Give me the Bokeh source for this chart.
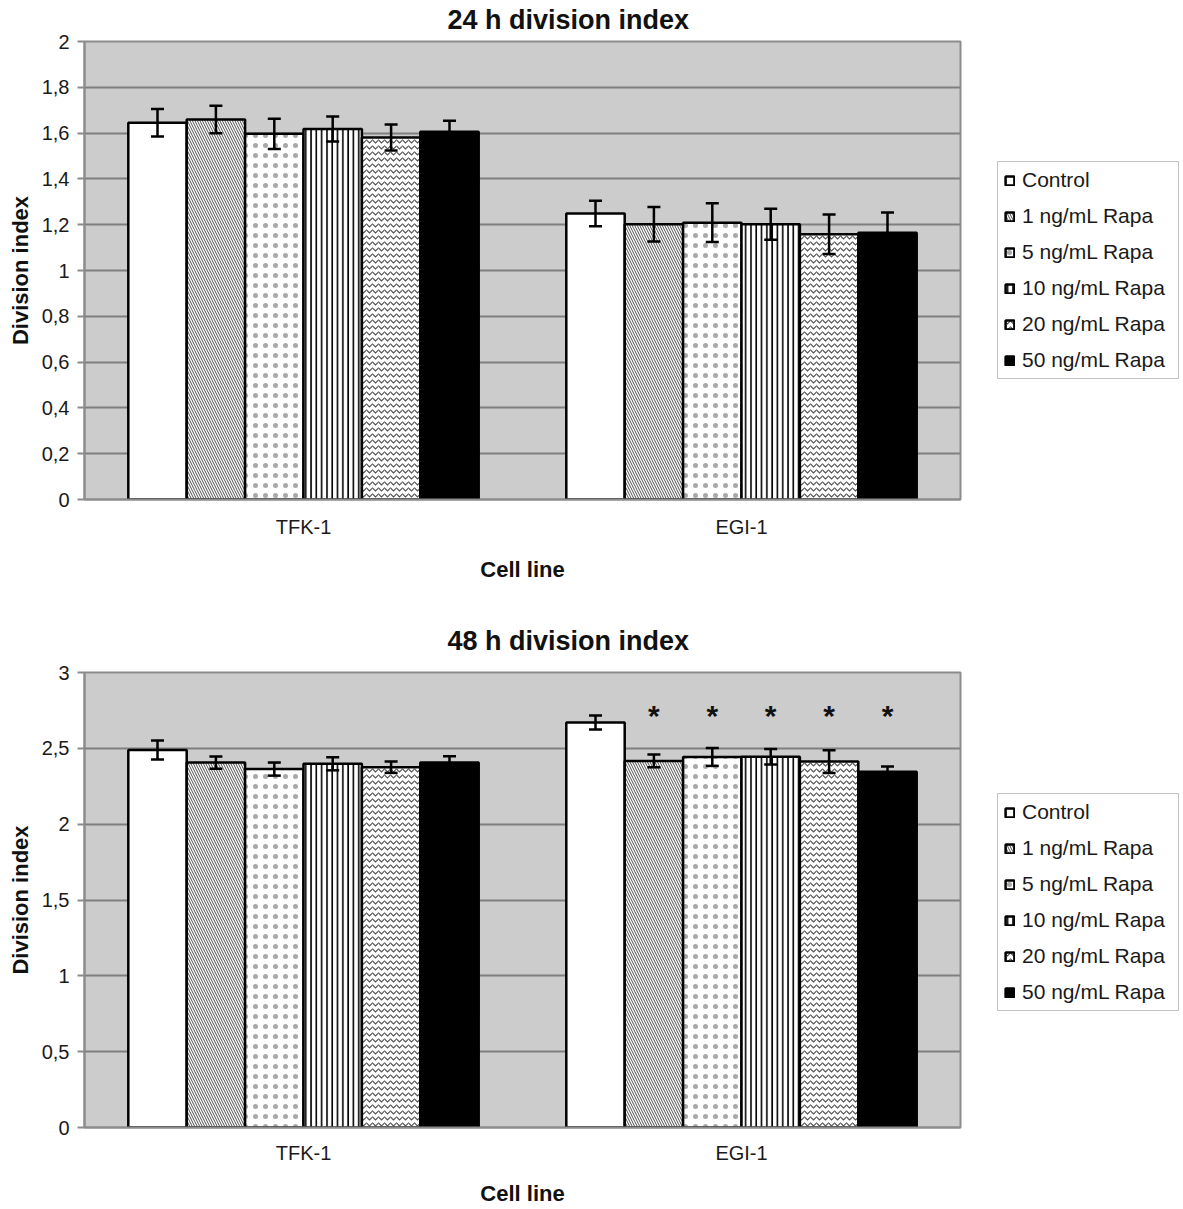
from bokeh.plotting import figure
from bokeh.models import (FactorRange, Range1d, FixedTicker, Legend, LegendItem,
                          Whisker, TeeHead, ColumnDataSource, CustomJSTickFormatter)
from bokeh.transform import dodge
from bokeh.layouts import column
from bokeh.embed import file_html
from bokeh.resources import INLINE
from bokeh.core.properties import value

# ---------------- data ----------------
cell_lines = ["TFK-1", "EGI-1"]
treatments = ["Control", "1 ng/mL Rapa", "5 ng/mL Rapa", "10 ng/mL Rapa",
              "20 ng/mL Rapa", "50 ng/mL Rapa"]

# 24 h division index
tfk_24 = [1.645, 1.659, 1.597, 1.618, 1.581, 1.606]
tfk_24_err = [0.060, 0.060, 0.066, 0.055, 0.057, 0.048]
egi_24 = [1.249, 1.202, 1.209, 1.202, 1.158, 1.165]
egi_24_err = [0.056, 0.075, 0.085, 0.068, 0.086, 0.088]

# 48 h division index
tfk_48 = [2.489, 2.406, 2.363, 2.398, 2.376, 2.406]
tfk_48_err = [0.063, 0.040, 0.043, 0.043, 0.038, 0.042]
egi_48 = [2.671, 2.417, 2.443, 2.445, 2.413, 2.346]
egi_48_err = [0.046, 0.042, 0.059, 0.051, 0.075, 0.034]
egi_48_significant = [False, True, True, True, True, True]

y_ticks_24 = [0, 0.2, 0.4, 0.6, 0.8, 1, 1.2, 1.4, 1.6, 1.8, 2]
y_ticks_48 = [0, 0.5, 1, 1.5, 2, 2.5, 3]

# ---------------- styling ----------------
FONT = "Liberation Sans"
GRID = "#7f7f7f"
AXIS = "#8c8c8c"

bar_styles = [
    dict(fill_color="white"),
    dict(fill_color="white", hatch_pattern="left_diagonal_line", hatch_color="#505050",
         hatch_scale=5, hatch_weight=1),
    dict(fill_color="white", hatch_pattern="dot", hatch_color="#a8a8a8",
         hatch_scale=10, hatch_weight=1),
    dict(fill_color="white", hatch_pattern="vertical_line", hatch_color="black",
         hatch_scale=5.3, hatch_weight=1.6),
    dict(fill_color="white", hatch_pattern="horizontal_wave", hatch_color="#505050",
         hatch_scale=6, hatch_weight=1.1),
    dict(fill_color="black"),
]

N = len(treatments)
BW = 0.8 / N


def make_chart(title, tfk, tfk_err, egi, egi_err, y_ticks, frame_h, top_border,
               bottom_border, title_standoff, legend_vy, xlabel_standoff,
               significant=None, star_y=None):
    p = figure(x_range=FactorRange(*cell_lines, range_padding=0),
               y_range=Range1d(0, y_ticks[-1]),
               frame_width=876, frame_height=frame_h,
               min_border_left=84, min_border_right=223,
               min_border_top=top_border, min_border_bottom=bottom_border,
               output_backend="svg", toolbar_location=None, title=title)

    p.title.align = "left"
    p.title.offset = 363
    p.title.standoff = title_standoff
    p.title.vertical_align = "top"
    p.title.text_font = FONT
    p.title.text_font_size = "27px"
    p.title.text_font_style = "bold"
    p.title.text_color = "#111111"

    p.background_fill_color = "#cccccc"
    p.border_fill_color = "white"
    p.outline_line_color = AXIS
    p.outline_line_width = 2

    p.xgrid.visible = False
    p.ygrid.grid_line_color = GRID
    p.ygrid.grid_line_width = 2

    ticker = FixedTicker(ticks=y_ticks)
    p.yaxis.ticker = ticker
    p.ygrid.ticker = ticker
    p.yaxis.formatter = CustomJSTickFormatter(code="return String(tick).replace('.', ',');")

    for ax in (p.xaxis, p.yaxis):
        ax.axis_line_color = AXIS
        ax.axis_line_width = 2
        ax.major_tick_line_color = AXIS
        ax.major_tick_line_width = 2
        ax.minor_tick_line_color = None
        ax.major_label_text_font = FONT
        ax.major_label_text_font_size = "20px"
        ax.major_label_text_color = "#1a1a1a"
        ax.axis_label_text_font = FONT
        ax.axis_label_text_font_size = "22px"
        ax.axis_label_text_font_style = "bold"
        ax.axis_label_text_color = "#111111"

    p.yaxis.major_tick_out = 7
    p.yaxis.major_tick_in = 0
    p.yaxis.major_label_standoff = 8
    p.yaxis.axis_label = "Division index"
    p.yaxis.axis_label_standoff = 6

    p.xaxis.major_tick_out = 0
    p.xaxis.major_tick_in = 0
    p.xaxis.major_label_standoff = xlabel_standoff
    p.xaxis.axis_label = "Cell line"
    p.xaxis.axis_label_standoff = xlabel_standoff

    items = []
    for i, name in enumerate(treatments):
        off = (i - (N - 1) / 2) * BW
        vals = [tfk[i], egi[i]]
        errs = [tfk_err[i], egi_err[i]]
        src = ColumnDataSource(dict(
            cell=cell_lines, top=vals,
            upper=[v + e for v, e in zip(vals, errs)],
            lower=[v - e for v, e in zip(vals, errs)]))
        r = p.vbar(x=dodge("cell", off, range=p.x_range), top="top", width=BW,
                   source=src, line_color="black", line_width=2.5, **bar_styles[i])
        w = Whisker(base=dodge("cell", off, range=p.x_range), upper="upper", lower="lower",
                    source=src, line_color="black", line_width=2.5, level="overlay",
                    upper_head=TeeHead(size=13, line_width=2.5, line_color="black"),
                    lower_head=TeeHead(size=13, line_width=2.5, line_color="black"))
        p.add_layout(w)
        items.append(LegendItem(label=name, renderers=[r]))

        if significant is not None and significant[i]:
            ssrc = ColumnDataSource(dict(cell=["EGI-1"], y=[star_y], t=["*"]))
            p.text(x=dodge("cell", off, range=p.x_range), y="y", text="t", source=ssrc,
                   text_align="center", text_baseline="alphabetic",
                   text_font=value(FONT), text_font_size="30px",
                   text_font_style="bold", text_color="#111111")

    legend = Legend(items=items, location=(37, legend_vy), orientation="vertical",
                    label_text_font=FONT, label_text_font_size="21px",
                    label_text_color="#1a1a1a", margin=0,
                    glyph_width=11, glyph_height=11, label_standoff=7,
                    spacing=12, padding=6, label_height=24, label_width=150,
                    border_line_color="#888888", border_line_width=1.5,
                    background_fill_color="white", background_fill_alpha=1.0)
    p.add_layout(legend, "right")
    return p


p1 = make_chart("24 h division index", tfk_24, tfk_24_err, egi_24, egi_24_err,
                y_ticks_24, frame_h=458, top_border=40, bottom_border=112,
                title_standoff=9, legend_vy=120, xlabel_standoff=16)
p2 = make_chart("48 h division index", tfk_48, tfk_48_err, egi_48, egi_48_err,
                y_ticks_48, frame_h=455, top_border=60, bottom_border=80,
                title_standoff=29, legend_vy=116, xlabel_standoff=14,
                significant=egi_48_significant, star_y=2.715)

layout = column(p1, p2, spacing=0)

with open("out.html", "w") as f:
    f.write(file_html(layout, INLINE))
